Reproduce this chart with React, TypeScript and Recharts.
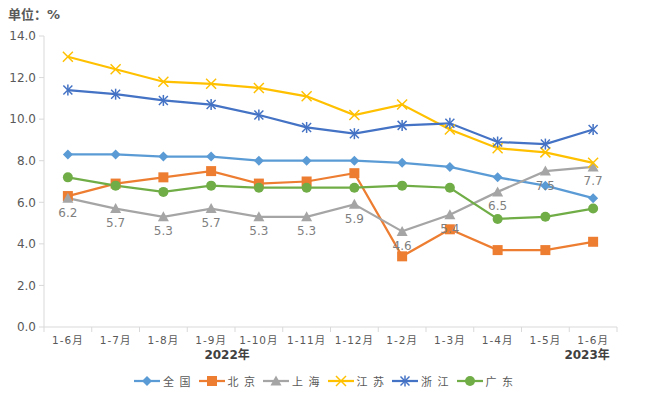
import React from 'react';
import { LineChart, Line, XAxis, YAxis, LabelList } from 'recharts';

const categories = ['1-6月', '1-7月', '1-8月', '1-9月', '1-10月', '1-11月', '1-12月', '1-2月', '1-3月', '1-4月', '1-5月', '1-6月'];
const yearLabels = ['2022年', '2023年'];
const national = [8.3, 8.3, 8.2, 8.2, 8.0, 8.0, 8.0, 7.9, 7.7, 7.2, 6.8, 6.2];
const beijing = [6.3, 6.9, 7.2, 7.5, 6.9, 7.0, 7.4, 3.4, 4.7, 3.7, 3.7, 4.1];
const shanghai = [6.2, 5.7, 5.3, 5.7, 5.3, 5.3, 5.9, 4.6, 5.4, 6.5, 7.5, 7.7];
const jiangsu = [13.0, 12.4, 11.8, 11.7, 11.5, 11.1, 10.2, 10.7, 9.5, 8.6, 8.4, 7.9];
const zhejiang = [11.4, 11.2, 10.9, 10.7, 10.2, 9.6, 9.3, 9.7, 9.8, 8.9, 8.8, 9.5];
const guangdong = [7.2, 6.8, 6.5, 6.8, 6.7, 6.7, 6.7, 6.8, 6.7, 5.2, 5.3, 5.7];
const yTicks = [0, 2, 4, 6, 8, 10, 12, 14];

const data = categories.map((c, i) => ({
  idx: i,
  national: national[i],
  beijing: beijing[i],
  shanghai: shanghai[i],
  jiangsu: jiangsu[i],
  zhejiang: zhejiang[i],
  guangdong: guangdong[i],
}));

type Shape = 'diamond' | 'square' | 'triangle' | 'x' | 'star' | 'circle';

const series: { key: string; name: string; color: string; shape: Shape }[] = [
  { key: 'national', name: '全 国', color: '#5B9BD5', shape: 'diamond' },
  { key: 'beijing', name: '北 京', color: '#ED7D31', shape: 'square' },
  { key: 'shanghai', name: '上 海', color: '#A5A5A5', shape: 'triangle' },
  { key: 'jiangsu', name: '江 苏', color: '#FFC000', shape: 'x' },
  { key: 'zhejiang', name: '浙 江', color: '#4472C4', shape: 'star' },
  { key: 'guangdong', name: '广 东', color: '#70AD47', shape: 'circle' },
];

const marker = (shape: Shape, color: string, cx: number, cy: number, key?: any) => {
  switch (shape) {
    case 'diamond':
      return <polygon key={key} points={`${cx},${cy - 5} ${cx + 5},${cy} ${cx},${cy + 5} ${cx - 5},${cy}`} fill={color} />;
    case 'square':
      return <rect key={key} x={cx - 5} y={cy - 5} width={10} height={10} fill={color} />;
    case 'triangle':
      return <polygon key={key} points={`${cx},${cy - 5.5} ${cx + 5.5},${cy + 4.5} ${cx - 5.5},${cy + 4.5}`} fill={color} />;
    case 'x':
      return (
        <g key={key} stroke={color} strokeWidth={1.5}>
          <line x1={cx - 5} y1={cy - 5} x2={cx + 5} y2={cy + 5} />
          <line x1={cx - 5} y1={cy + 5} x2={cx + 5} y2={cy - 5} />
        </g>
      );
    case 'star':
      return (
        <g key={key} stroke={color} strokeWidth={1.5}>
          <line x1={cx - 4.5} y1={cy - 4.5} x2={cx + 4.5} y2={cy + 4.5} />
          <line x1={cx - 4.5} y1={cy + 4.5} x2={cx + 4.5} y2={cy - 4.5} />
          <line x1={cx} y1={cy - 5.5} x2={cx} y2={cy + 5.5} />
        </g>
      );
    case 'circle':
    default:
      return <circle key={key} cx={cx} cy={cy} r={5} fill={color} />;
  }
};

const W = 647;
const H = 397;
const PLOT_LEFT = 44;
const PLOT_RIGHT = 617;
const BAND = (PLOT_RIGHT - PLOT_LEFT) / categories.length;

const XTick = (props: any) => {
  const { x, y, payload } = props;
  const i = payload.value as number;
  const axisColor = '#D9D9D9';
  return (
    <g>
      <line x1={x - BAND / 2} x2={x - BAND / 2} y1={y} y2={y + 5} stroke={axisColor} />
      {i === categories.length - 1 && (
        <line x1={x + BAND / 2} x2={x + BAND / 2} y1={y} y2={y + 5} stroke={axisColor} />
      )}
      <text x={x} y={y + 17} textAnchor="middle" fontSize={10.5} fill="#595959" letterSpacing={1}>
        {categories[i]}
      </text>
      {i === 3 && (
        <text x={x + 16} y={y + 32} textAnchor="middle" fontSize={12} fontWeight="bold" fill="#404040">
          {yearLabels[0]}
        </text>
      )}
      {i === categories.length - 1 && (
        <text x={x - 6} y={y + 32} textAnchor="middle" fontSize={12} fontWeight="bold" fill="#404040">
          {yearLabels[1]}
        </text>
      )}
    </g>
  );
};

export default function App() {
  const font = '"DejaVu Sans", "Noto Sans CJK SC", sans-serif';
  return (
    <div style={{ position: 'absolute', left: 0, top: 0, width: W, height: H, background: '#fff', fontFamily: font }}>
      <div style={{ position: 'absolute', left: 8, top: 4, fontSize: 13, fontWeight: 'bold', color: '#595959' }}>
        单位：%
      </div>
      <LineChart
        width={W}
        height={H}
        data={data}
        margin={{ top: 36, right: W - PLOT_RIGHT, left: 8, bottom: 30 }}
        style={{ fontFamily: font }}
      >
        <XAxis
          dataKey="idx"
          type="category"
          height={40}
          tickSize={0}
          tickMargin={0}
          tickLine={false}
          padding={{ left: BAND / 2, right: BAND / 2 }}
          axisLine={{ stroke: '#D9D9D9' }}
          tick={<XTick />}
          interval={0}
        />
        <YAxis
          width={36}
          domain={[0, 14]}
          ticks={yTicks}
          tickFormatter={(v: number) => v.toFixed(1)}
          tickSize={5}
          tickMargin={3}
          axisLine={{ stroke: '#D9D9D9' }}
          tickLine={{ stroke: '#D9D9D9' }}
          tick={{ fontSize: 12, fill: '#595959' }}
          interval={0}
        />
        {series.map((s) => (
          <Line
            key={s.key}
            dataKey={s.key}
            name={s.name}
            stroke={s.color}
            strokeWidth={2.25}
            isAnimationActive={false}
            dot={(p: any) => marker(s.shape, s.color, p.cx, p.cy, `${s.key}-${p.index}`)}
            activeDot={false}
          >
            {s.key === 'shanghai' && (
              <LabelList dataKey="shanghai" position="bottom" offset={10} fill="#7F7F7F" fontSize={12} />
            )}
          </Line>
        ))}
      </LineChart>
      <div
        style={{
          position: 'absolute',
          left: 0,
          top: 373,
          width: W,
          display: 'flex',
          justifyContent: 'center',
          gap: 6,
          fontSize: 11,
          color: '#595959',
        }}
      >
        {series.map((s) => (
          <div key={s.key} style={{ display: 'flex', alignItems: 'center' }}>
            <svg width={28} height={16}>
              <line x1={1} x2={27} y1={8} y2={8} stroke={s.color} strokeWidth={2.25} />
              {marker(s.shape, s.color, 14, 8)}
            </svg>
            <span style={{ marginLeft: 2, letterSpacing: 1 }}>{s.name}</span>
          </div>
        ))}
      </div>
    </div>
  );
}
